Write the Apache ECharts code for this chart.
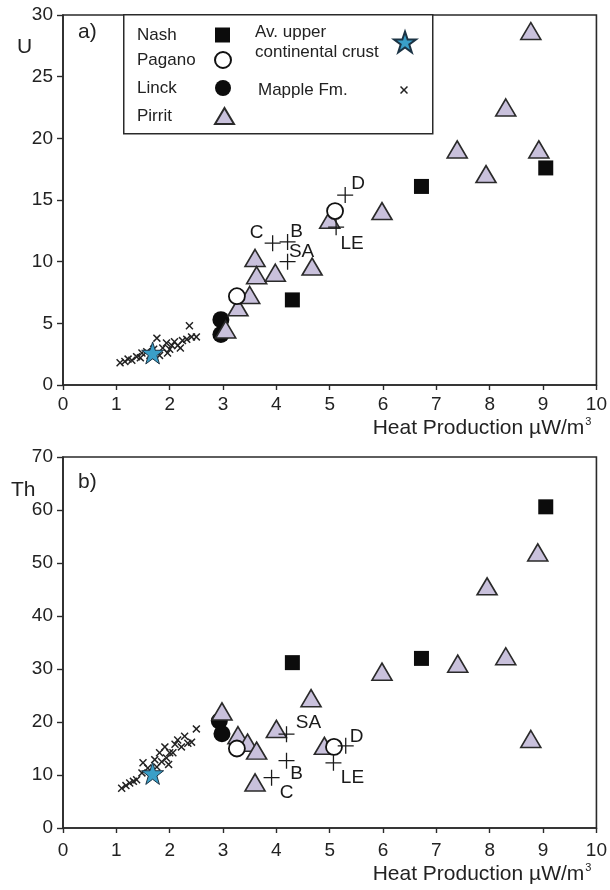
<!DOCTYPE html>
<html>
<head>
<meta charset="utf-8">
<script src="https://cdn.jsdelivr.net/npm/echarts@6/dist/echarts.min.js"></script>
<style>
  html, body { margin: 0; padding: 0; background: #fff; }
  #chart { width: 610px; height: 890px; }
</style>
</head>
<body>
<div id="chart"></div>
<script>
// heat production (µW/m3) vs U (panel a) and Th (panel b), ppm
const xTicks = [0, 10, 1];
const uTicks = [0, 30, 5];
const thTicks = [0, 70, 10];

const nashU = [[4.3, 6.9], [6.72, 16.1], [9.05, 17.6]];
const nashTh = [[4.3, 31.2], [6.72, 32.0], [9.05, 60.6]];

const paganoU = [[3.26, 7.2], [5.1, 14.1]];
const paganoTh = [[3.26, 15.0], [5.08, 15.3]];

const linckU = [[2.96, 5.3], [2.96, 4.1]];
const linckTh = [[2.93, 20.2], [2.98, 17.8]];

const pirritU = [[3.05, 4.5], [3.28, 6.3], [3.5, 7.3], [3.6, 10.3], [3.63, 8.9], [3.98, 9.1],
  [4.67, 9.6], [5.0, 13.4], [5.98, 14.1], [7.39, 19.1], [7.93, 17.1], [8.3, 22.5], [8.77, 28.7], [8.92, 19.1]];
const pirritTh = [[2.98, 22.0], [3.28, 17.5], [3.46, 16.1], [3.63, 14.6], [4.0, 18.7], [4.65, 24.5],
  [3.6, 8.6], [4.9, 15.5], [5.98, 29.5], [7.4, 31.0], [7.95, 45.6], [8.3, 32.4], [8.9, 52.0], [8.77, 16.8]];

const uccU = [[1.68, 2.6]];
const uccTh = [[1.68, 10.3]];

const mappleU = [[1.07, 1.8], [1.16, 1.9], [1.22, 2.1], [1.29, 2.0], [1.38, 2.3], [1.45, 2.2], [1.48, 2.6],
  [1.57, 2.7], [1.63, 2.4], [1.7, 2.9], [1.76, 3.8], [1.81, 2.4], [1.87, 3.0], [1.94, 3.4], [1.96, 2.6],
  [2.0, 2.9], [2.04, 3.2], [2.09, 3.5], [2.15, 3.2], [2.2, 3.0], [2.24, 3.6], [2.32, 3.7], [2.37, 4.8],
  [2.41, 3.9], [2.5, 3.9]];
const mappleTh = [[1.1, 7.5], [1.18, 8.0], [1.25, 8.5], [1.32, 8.8], [1.38, 9.1], [1.48, 10.4], [1.5, 12.3],
  [1.59, 11.3], [1.66, 10.0], [1.72, 12.9], [1.76, 11.5], [1.81, 14.2], [1.85, 12.5], [1.91, 15.3],
  [1.94, 13.2], [1.98, 12.0], [2.0, 14.2], [2.06, 14.2], [2.1, 15.8], [2.15, 16.6], [2.22, 15.3],
  [2.28, 17.3], [2.34, 16.0], [2.41, 16.2], [2.5, 18.7]];

const refNames = ['C', 'B', 'SA', 'LE', 'D'];
const refU = [[3.93, 11.5], [4.21, 11.6], [4.21, 10.0], [5.12, 12.8], [5.29, 15.4]];
const refTh = [[3.91, 9.5], [4.19, 12.7], [4.19, 17.7], [5.07, 12.3], [5.3, 15.5]];

// label offsets for the reference crosses (px)
const offA = { C: [-16, -10], B: [9, -10], SA: [14, -10], LE: [16, 17], D: [13, -11] };
const offB = { C: [15, 15], B: [10, 13], SA: [22, -11], LE: [19, 15], D: [11, -9] };

const FONT = "'Liberation Sans', Arial, sans-serif";
const INK = '#2a2a2a';

const plus = 'path://M9.2,0h1.6v20h-1.6z M0,9.2h20v1.6h-20z';
const xmark = 'path://M1.3,0L5,3.7L8.7,0L10,1.3L6.3,5L10,8.7L8.7,10L5,6.3L1.3,10L0,8.7L3.7,5L0,1.3Z';
const star = 'path://M50,0L61.8,35.1L98.9,35.1L69.1,57.3L80.3,92.7L50,71L19.7,92.7L30.9,57.3L1.1,35.1L38.2,35.1Z';

function pts(arr) {
  return arr.map(p => p.slice());
}

function makeAxes(idx, yr, labelMargin) {
  const x = {
    type: 'value', gridIndex: idx, min: xTicks[0], max: xTicks[1], interval: xTicks[2],
    axisLine: { show: true, lineStyle: { color: INK, width: 1.6 } },
    axisTick: { show: true, length: 5, lineStyle: { color: INK, width: 1.4 } },
    axisLabel: { fontFamily: FONT, fontSize: 19, color: '#222', margin: labelMargin },
    splitLine: { show: false },
    name: '{t|Heat Production µW/m}{s|3}',
    nameLocation: 'end',
    nameGap: 0,
    nameTextStyle: {
      align: 'right', verticalAlign: 'top', padding: [labelMargin + 21, 5, 0, 0],
      rich: {
        t: { fontFamily: FONT, fontSize: 21, color: '#222' },
        s: { fontFamily: FONT, fontSize: 11, color: '#222', padding: [0, 0, 13, 1] }
      }
    }
  };
  const y = {
    type: 'value', gridIndex: idx, min: yr[0], max: yr[1], interval: yr[2],
    axisLine: { show: true, lineStyle: { color: INK, width: 1.6 } },
    axisTick: { show: true, length: 6, lineStyle: { color: INK, width: 1.4 } },
    axisLabel: { fontFamily: FONT, fontSize: 19, color: '#222', margin: 10 },
    splitLine: { show: false }
  };
  return [x, y];
}

function panelSeries(idx, d) {
  const base = { type: 'scatter', xAxisIndex: idx, yAxisIndex: idx, emphasis: { disabled: true } };
  return [
    Object.assign({}, base, {
      name: 'Mapple Fm.', data: pts(d.mapple), symbol: xmark, symbolSize: 8,
      itemStyle: { color: '#222', opacity: 1 }, z: 2
    }),
    Object.assign({}, base, {
      name: 'Linck', data: pts(d.linck), symbol: 'circle', symbolSize: 17,
      itemStyle: { color: '#0c0c0c', opacity: 1 }, z: 3
    }),
    Object.assign({}, base, {
      name: 'Pirrit', data: pts(d.pirrit), symbol: 'triangle', symbolSize: [20, 17],
      itemStyle: { color: '#c9c1dc', borderColor: '#2a2a2a', borderWidth: 1.6, opacity: 1 }, z: 4
    }),
    Object.assign({}, base, {
      name: 'Pagano', data: pts(d.pagano), symbol: 'circle', symbolSize: 16,
      itemStyle: { color: '#fff', borderColor: '#111', borderWidth: 1.8, opacity: 1 }, z: 5
    }),
    Object.assign({}, base, {
      name: 'Nash', data: pts(d.nash), symbol: 'rect', symbolSize: 15,
      itemStyle: { color: '#0c0c0c', opacity: 1 }, z: 5
    }),
    Object.assign({}, base, {
      name: 'ref', symbol: plus, symbolSize: 16,
      itemStyle: { color: '#1a1a1a', opacity: 1 }, z: 6,
      data: d.ref.map((p, i) => ({
        value: p.slice(), name: refNames[i],
        label: { offset: d.off[refNames[i]] }
      })),
      label: {
        show: true, position: 'inside', formatter: '{b}',
        fontFamily: FONT, fontSize: 19, color: '#1a1a1a', opacity: 1
      }
    }),
    Object.assign({}, base, {
      name: 'Av. upper continental crust', data: pts(d.ucc), symbol: star,
      symbolSize: 22, itemStyle: { color: '#3a9fc8', borderColor: '#1c3445', borderWidth: 1, opacity: 1 }, z: 7
    })
  ];
}

function legendItem(name, label, left, top, textW, iw, ih) {
  return {
    data: [name], left: left, top: top, orient: 'vertical', align: 'right',
    selectedMode: false, itemWidth: iw, itemHeight: ih, padding: 0,
    formatter: () => label.split('\n').map(s => '{a|' + s + '}').join('\n'),
    textStyle: {
      fontFamily: FONT, fontSize: 17, color: '#222', lineHeight: 20,
      rich: { a: { width: textW, align: 'left', fontFamily: FONT, fontSize: 17, color: '#222', lineHeight: 20 } }
    }
  };
}

const axA = makeAxes(0, uTicks, 10);
const axB = makeAxes(1, thTicks, 13);

const option = {
  animation: false,
  backgroundColor: '#fff',
  grid: [
    { left: 63, top: 15, width: 535, height: 370, show: true, borderColor: INK, borderWidth: 1.6 },
    { left: 63, top: 457, width: 535, height: 371, show: true, borderColor: INK, borderWidth: 1.6 }
  ],
  xAxis: [axA[0], axB[0]],
  yAxis: [axA[1], axB[1]],
  legend: [
    legendItem('Nash', 'Nash', 137, 25, 73, 15, 15),
    legendItem('Pagano', 'Pagano', 137, 50, 73, 16, 16),
    legendItem('Linck', 'Linck', 137, 78, 73, 16, 16),
    legendItem('Pirrit', 'Pirrit', 137, 106, 73, 19, 16),
    legendItem('Av. upper continental crust', 'Av. upper\ncontinental crust', 255, 22, 134, 22, 22),
    legendItem('Mapple Fm.', 'Mapple Fm.', 258, 80, 137, 8, 8)
  ],
  graphic: [
    { type: 'rect', left: 123, top: 14, shape: { width: 309, height: 119 },
      style: { fill: '#fff', stroke: INK, lineWidth: 1.5 }, z: 1 },
    { type: 'text', left: 78, top: 22, style: { text: 'a)', font: "21px 'Liberation Sans', Arial", fill: '#222' } },
    { type: 'text', left: 78, top: 472, style: { text: 'b)', font: "21px 'Liberation Sans', Arial", fill: '#222' } },
    { type: 'text', left: 17, top: 37, style: { text: 'U', font: "21px 'Liberation Sans', Arial", fill: '#222' } },
    { type: 'text', left: 11, top: 480, style: { text: 'Th', font: "21px 'Liberation Sans', Arial", fill: '#222' } }
  ],
  series: [].concat(
    panelSeries(0, { mapple: mappleU, linck: linckU, pirrit: pirritU, pagano: paganoU, nash: nashU, ref: refU, off: offA, ucc: uccU }),
    panelSeries(1, { mapple: mappleTh, linck: linckTh, pirrit: pirritTh, pagano: paganoTh, nash: nashTh, ref: refTh, off: offB, ucc: uccTh })
  )
};

const chart = echarts.init(document.getElementById('chart'));
chart.setOption(option);
</script>
</body>
</html>
